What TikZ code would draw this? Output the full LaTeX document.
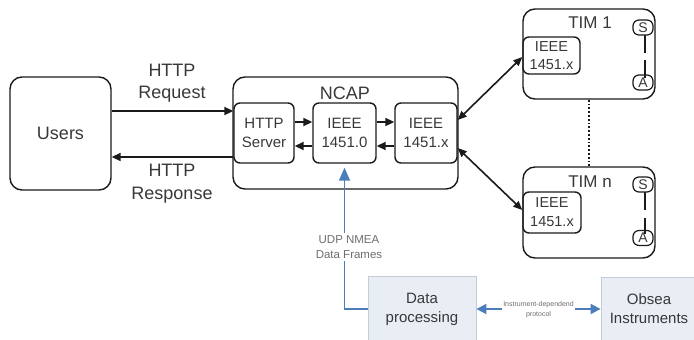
\documentclass[tikz,border=0pt]{standalone}
\usepackage{fontspec}
\setmainfont{Liberation Sans}
\usetikzlibrary{arrows.meta}
\definecolor{txt}{HTML}{383838}
\definecolor{ink}{HTML}{1A1A1A}
\definecolor{flow}{HTML}{4A7DBA}
\definecolor{boxfill}{HTML}{E9EEF5}
\definecolor{boxline}{HTML}{C3CCD8}
\definecolor{faint}{HTML}{6E6E6E}
\newcommand{\fs}[2]{\fontsize{#1}{#2}\selectfont}
\begin{document}
\begin{tikzpicture}[x=1pt,y=-1pt,
  rbox/.style={draw=ink, line width=1.4pt, rounded corners=12pt, inner sep=0pt,
    text=txt, align=center},
  ibox/.style={draw=ink, line width=1.4pt, rounded corners=6pt, inner sep=0pt,
    text=txt, align=center, font=\fs{15}{19}},
  sabox/.style={draw=ink, fill=white, line width=1.2pt, rounded corners=6pt,
    inner sep=0pt, minimum width=20pt, minimum height=15pt, text=txt,
    font=\fs{14}{16}},
  lbl/.style={text=txt, align=center},
  harrow/.style={draw=ink, line width=1.9pt, -{Triangle[length=9pt,width=8pt]}},
  darrow/.style={draw=ink, line width=1.6pt,
    {Triangle[length=9pt,width=7.5pt]}-{Triangle[length=9pt,width=7.5pt]}},
  flowline/.style={draw=flow, line width=1.8pt},
  sqbox/.style={draw=boxline, fill=boxfill, line width=0.8pt, inner sep=0pt,
    text=txt, align=center, font=\fs{15}{19}}
]
\clip (0,0) rectangle (694,340);

% users and the NCAP with its three blocks
\node[rbox, minimum width=101pt, minimum height=113pt, font=\fs{18}{20}]
  (users) at (60.5,133.5) {Users};
\node[rbox, minimum width=225pt, minimum height=112pt] (ncap) at (345.5,133) {};
\node[lbl, font=\fs{18}{20}] (ncaplbl) at (345,93) {NCAP};
\node[ibox, minimum width=60pt, minimum height=60pt] (srv) at (264,133)
  {HTTP\\Server};
\node[ibox, minimum width=63pt, minimum height=60pt] (ieee0) at (344.5,133)
  {IEEE\\1451.0};
\node[ibox, minimum width=62pt, minimum height=60pt] (ieeex) at (426,133)
  {IEEE\\1451.x};

% HTTP exchange
\draw[harrow] ([yshift=22.5pt]users.east) -- ([yshift=22.5pt]users.east -| srv.west);
\draw[harrow] ([yshift=-23.5pt]users.east -| srv.west) -- ([yshift=-23.5pt]users.east);
\node[lbl, font=\fs{18}{22}] (req) at (172,83) {HTTP\\Request};
\node[lbl, font=\fs{18}{23}] (resp) at (172,183.5) {HTTP\\Response};

% arrows inside the NCAP
\draw[harrow] ([yshift=11pt]srv.east) -- ([yshift=11pt]srv.east -| ieee0.west);
\draw[harrow] ([yshift=11pt]ieee0.east) -- ([yshift=11pt]ieee0.east -| ieeex.west);
\draw[harrow] ([yshift=-13pt]ieeex.west) -- ([yshift=-13pt]ieeex.west -| ieee0.east);
\draw[harrow] ([yshift=-13pt]ieee0.west) -- ([yshift=-13pt]ieee0.west -| srv.east);

% transducer interface modules
\node[rbox, minimum width=132pt, minimum height=90pt] (tim1) at (589,54) {};
\node[lbl, font=\fs{17}{20}] (tim1lbl) at (590,23) {TIM 1};
\node[ibox, minimum width=57pt, minimum height=37pt, font=\fs{14.5}{18}]
  (t1i) at (551.5,55.5) {IEEE\\1451.x};
\draw[ink, line width=1.3pt] (645,35) -- (645,53);
\draw[ink, line width=1.3pt] (645,60) -- (645,78);
\node[sabox] (s1) at (643,27.5) {S};
\node[sabox, fill=none] (a1) at (643,82.5) {A};

\node[rbox, minimum width=132pt, minimum height=91pt] (timn) at (589,212.5) {};
\node[lbl, font=\fs{17}{20}] (timnlbl) at (590,182) {TIM n};
\node[ibox, minimum width=58pt, minimum height=41pt, font=\fs{14.5}{19}]
  (tni) at (552,212.5) {IEEE\\1451.x};
\draw[ink, line width=1.3pt] (645,192) -- (645,210);
\draw[ink, line width=1.3pt] (645,218) -- (645,234);
\node[sabox] (sn) at (643,184.5) {S};
\node[sabox, fill=none] (an) at (643,238) {A};

\draw[ink, line width=1.8pt, dotted] (tim1.south) -- (timn.north);
\draw[darrow] ([yshift=13pt]ieeex.east) -- ([yshift=-1.5pt]t1i.west);
\draw[darrow] ([yshift=-15pt]ieeex.east) -- ([yshift=2.5pt]tni.west);

% data processing side
\node[sqbox, minimum width=108pt, minimum height=66pt] (dp) at (422,309)
  {Data\\processing};
\node[sqbox, minimum width=96pt, minimum height=64pt] (ob) at (649,309)
  {Obsea\\Instruments};
\draw[flowline, -{Triangle[length=13pt,width=11pt]}]
  (dp.west) -| ([yshift=-4pt]ieee0.south);
\node[fill=white, inner sep=2pt, text=faint, align=center, font=\fs{11.5}{15}]
  (udp) at (349,247) {UDP NMEA\\Data Frames};
\draw[flowline, {Triangle[length=10pt,width=10pt]}-{Triangle[length=10pt,width=10pt]}]
  (dp.east) -- (ob.west);
\node[fill=white, inner sep=1pt, text=faint, align=center, font=\fs{7}{10}]
  (proto) at (538.5,310) {Instrument-dependend\\protocol};
\end{tikzpicture}
\end{document}
